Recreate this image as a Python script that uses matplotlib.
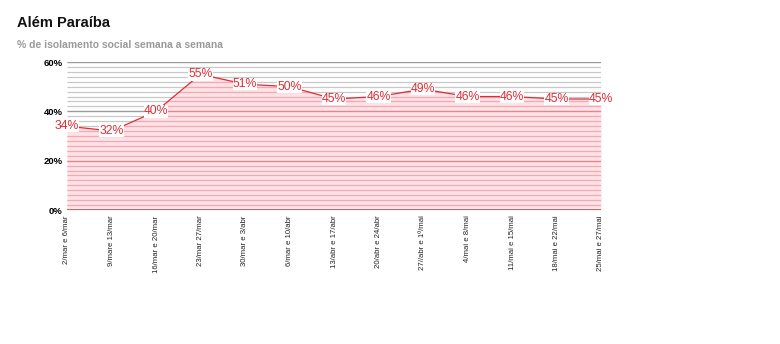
import numpy as np
import matplotlib.pyplot as plt
from matplotlib.ticker import FuncFormatter

plt.rcParams['font.family'] = ['Liberation Sans', 'DejaVu Sans']

semanas = ["2/mar e 6/mar", "9/mare 13/mar", "16/mar e 20/mar", "23/mar 27/mar",
           "30/mar e 3/abr", "6/mar e 10/abr", "13/abr e 17/abr", "20/abr e 24/abr",
           "27//abr e 1º/mai", "4/mai e 8/mai", "11/mai e 15/mai", "18/mai e 22/mai",
           "25/mai e 27/mai"]
isolamento = [34, 32, 40, 55, 51, 50, 45, 46, 49, 46, 46, 45, 45]

vermelho = "#de2c36"

fig = plt.figure(figsize=(7.8, 3.44), dpi=100)
ax = fig.add_axes([67 / 780, 1 - 210 / 344, (601 - 67) / 780, (210 - 62) / 344])

x = np.arange(len(semanas))
ymin, ymax = 0, 60
menores = np.arange(ymin, ymax + 1, 2)
maiores = np.arange(ymin, ymax + 1, 20)

# grade cinza (aparece acima da area)
ax.hlines(menores, 0, len(semanas) - 1, color="#c8c8c8", lw=0.9, zorder=1)
ax.hlines(maiores, 0, len(semanas) - 1, color="#9a9a9a", lw=0.9, zorder=1)

# area preenchida + grade rosa recortada pela area
area = ax.fill_between(x, 0, isolamento, color="#fde3e6", lw=0, zorder=2)
clip = area.get_paths()[0]
g1 = ax.hlines(menores, 0, len(semanas) - 1, color="#f4a8b2", lw=0.9, zorder=2.5)
g2 = ax.hlines(maiores, 0, len(semanas) - 1, color="#e6848f", lw=0.9, zorder=2.5)
for g in (g1, g2):
    g.set_clip_path(clip, ax.transData)

ax.plot(x, isolamento, color=vermelho, lw=0.9, zorder=3)
ax.axhline(0, color="#a56a6e", lw=1.3, zorder=3)

for xi, v in zip(x, isolamento):
    ax.text(xi, v, f"{v}%", ha="center", va="center", fontsize=8.8, color=vermelho,
            bbox=dict(facecolor="white", edgecolor="none", pad=0.2), zorder=4)

ax.set_xlim(0, len(semanas) - 1)
ax.set_ylim(ymin, ymax)
ax.set_yticks(maiores)
ax.yaxis.set_major_formatter(FuncFormatter(lambda v, p: f"{int(v)}%"))

ax.set_xticks(x)
ax.set_xticklabels(semanas, rotation=90, fontsize=5.6, color="#222222")
for lbl in ax.get_yticklabels():
    lbl.set_fontweight("bold")
    lbl.set_fontsize(6.8)
ax.tick_params(axis="both", which="both", length=0, pad=3)
ax.tick_params(axis="x", pad=4)
for s in ax.spines.values():
    s.set_visible(False)

fig.text(17 / 780, 1 - 27 / 344, "Além Paraíba", fontsize=10.5, fontweight="bold",
         va="baseline", color="#111111")
fig.text(17 / 780, 1 - 48 / 344, "% de isolamento social semana a semana", fontsize=7.5,
         fontweight="bold", va="baseline", color="#9a9a9a")

fig.savefig("out.png", dpi=100)
